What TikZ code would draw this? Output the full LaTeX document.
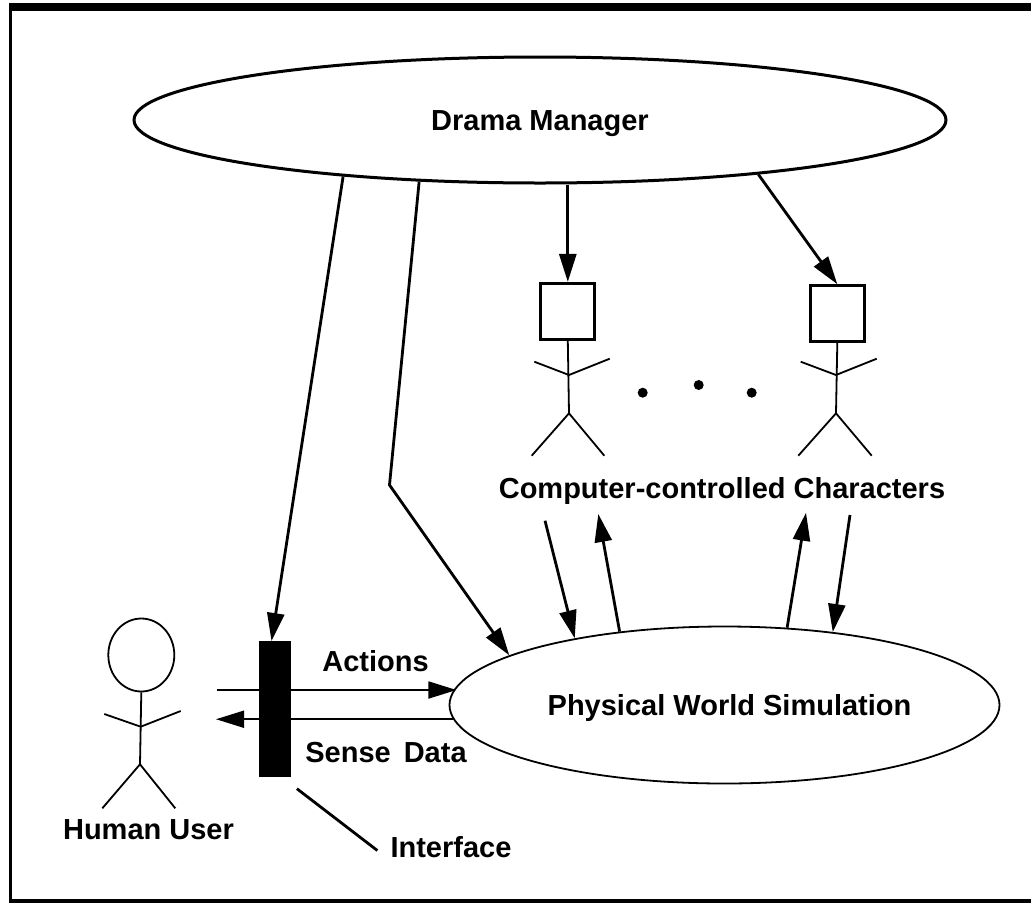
\documentclass[tikz,border=0pt]{standalone}
\usepackage{fontspec}
\setmainfont{Liberation Sans}
\usetikzlibrary{shapes.geometric,arrows.meta,calc}
\begin{document}
\begin{tikzpicture}[x=1pt,y=-1pt,
  lw/.style={line width=2.8pt},
  thinline/.style={line width=1.8pt},
  arr/.style={-{Triangle[length=28pt,width=17pt]}},
  txt/.style={font=\fontsize{29pt}{34pt}\selectfont\bfseries, text height=20.8pt, text depth=0pt, inner sep=0pt},
  charbox/.style={draw, line width=3pt, minimum width=54pt, minimum height=56pt, inner sep=0pt}
]
\useasboundingbox (0,0) rectangle (1031,903);
% frame
\fill (9,3) rectangle (1031,11);
\fill (9,3) rectangle (12,903);
\fill (9,899) rectangle (1031,903);

% main nodes
\node[draw, ellipse, line width=3pt, minimum width=812pt, minimum height=126pt, txt] (dm) at (540,120) {Drama Manager};
\node[draw, ellipse, line width=1.8pt, minimum width=550pt, minimum height=157pt, txt] (pws) at (724.5,705) {\hspace*{10pt}Physical World Simulation};
\node[charbox] (c1) at (567.8,311.4) {};
\node[charbox] (c2) at (837.3,313.7) {};
\node[draw, fill=black, minimum width=31pt, minimum height=135pt, inner sep=0pt] (iface) at (274.5,708.7) {};
\node[draw, ellipse, line width=1.8pt, minimum width=66pt, minimum height=73pt, inner sep=0pt] (head) at (141.3,655) {};

% labels
\node[txt] (chars) at (722,488) {Computer-controlled Characters};
\node[txt] (user) at (148.5,828.7) {Human User};
\node[txt] (act) at (375.5,661) {Actions};
\node[txt] (sense) at (386,751.7) {Sense\hspace{5pt} Data};
\node[txt] (ifl) at (451,847.5) {Interface};

% stick figures
\draw[thinline] (c1.south) -- (569,413.3);
\draw[thinline] (534.3,361.7) -- (569,375) -- (609.7,358.7);
\draw[thinline] (531.7,455.7) -- (569,413.3) -- (604.3,455.7);
\draw[thinline] (c2.south) -- (836,413.3);
\draw[thinline] (800.7,361.7) -- (836,375) -- (876.7,358.7);
\draw[thinline] (798.3,455.7) -- (836,413.3) -- (871.7,455.7);
\draw[thinline] (head.south) -- (140,764.3);
\draw[thinline] (104.3,714) -- (140.7,726.7) -- (180.7,711);
\draw[thinline] (102.3,808.3) -- (140,764.3) -- (175.3,808.3);

% dots
\fill (642.7,392.7) circle (5pt);
\fill (698.7,385) circle (5pt);
\fill (751.7,392.7) circle (5pt);

% drama manager connectors
\coordinate (bend) at (389.5,485);
\draw[lw, arr] (dm.196.2) -- ([xshift=-3pt]iface.north);
\draw[lw, arr] (dm.207.7) -- (bend) -- (pws.167.6);
\draw[lw, arr] (dm.south -| c1.north) -- (c1.north);
\draw[lw, arr] (dm.346.4) -- (c2.north);

% characters <-> world
\coordinate (a1s) at (545,520.7);
\coordinate (a2e) at (598.3,514);
\coordinate (a3e) at (806,512.7);
\coordinate (a4s) at (850,515);
\draw[lw, arr] (a1s) -- (pws.156.2);
\draw[lw, arr] (pws.145) -- (a2e);
\draw[lw, arr] (pws.51.9) -- (a3e);
\draw[lw, arr] (a4s) -- (pws.34.7);

% actions / sense data
\coordinate (actL) at (216.7,690);
\coordinate (senseL) at (216,722.3);
\draw[thinline, arr] (actL) -- (actL -| pws.176.8);
\draw[thinline, arr] (pws.183.7) -- (pws.183.7 -| senseL);

% interface pointer
\draw[lw] ([shift={(6.7,12.3)}]iface.south east) -- ([shift={(-13,3)}]ifl.west);
\end{tikzpicture}
\end{document}
